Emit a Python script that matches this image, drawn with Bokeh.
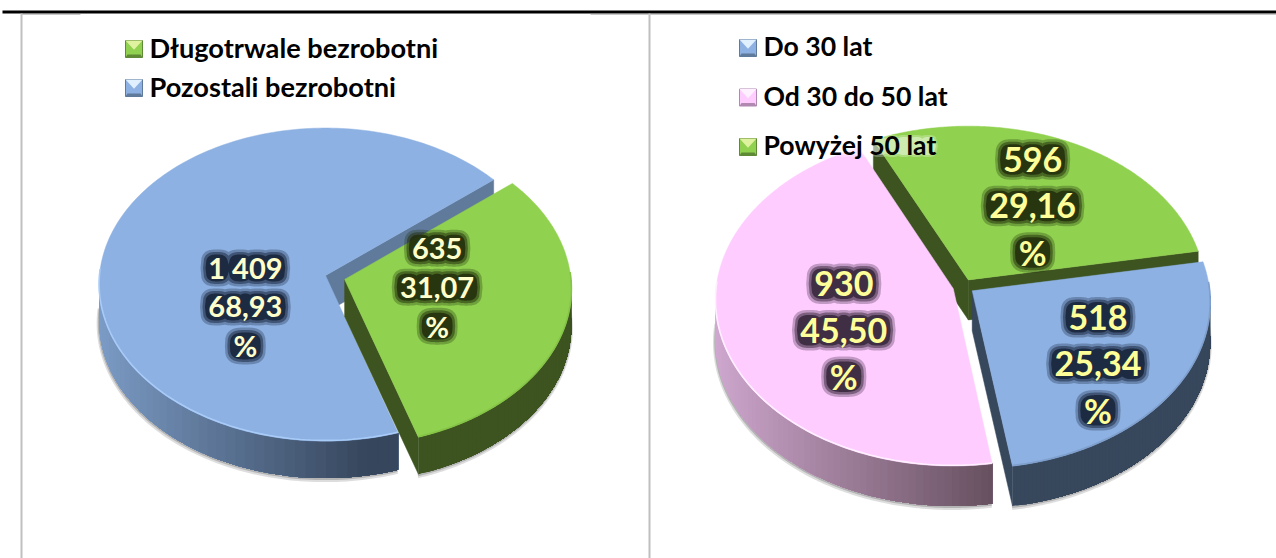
import numpy as np
from bokeh.plotting import figure
from bokeh.embed import file_html
from bokeh.resources import INLINE
from bokeh.core.properties import value

# ---- data ----
LEFT_NAMES = ["Długotrwale bezrobotni", "Pozostali bezrobotni"]
LEFT_VALUES = [635, 1409]
LEFT_VALUE_TEXT = ["635", "1 409"]
LEFT_PCT_TEXT = ["31,07", "68,93"]

RIGHT_NAMES = ["Do 30 lat", "Od 30 do 50 lat", "Powyżej 50 lat"]
RIGHT_VALUES = [518, 930, 596]
RIGHT_VALUE_TEXT = ["518", "930", "596"]
RIGHT_PCT_TEXT = ["25,34", "45,50", "29,16"]

# ---- layout / style ----
W, H = 1276, 558
FONT = "Lato"
GREEN = dict(top="#90d14f", face="#3d5420", light="#3d5420", dark="#3d5420", rim="#86c448", glow="#222e0c",
             sw=("#dff2a0", "#90d14f", "#5f8a35"))
BLUE_L = dict(top="#8db1e2", face="#5f7a9b", light="#7c9cc6", dark="#36465c", rim="#a8cbf8", glow="#18243a",
              sw=("#e0f0ff", "#8db1e2", "#5f7a9b"))
BLUE_R = dict(top="#8db1e2", face="#37475c", light="#37475c", dark="#37475c", rim="#7f9fcc", glow="#18243a",
              sw=("#e0f0ff", "#8db1e2", "#5f7a9b"))
PINK = dict(top="#ffccff", face="#67505f", light="#d0a8d0", dark="#66505f", rim="#fff0ff", glow="#35263a",
            sw=("#fff0ff", "#ffccff", "#b088b0"))

LEFT = dict(cx=325, cy=275, R=226, Ry=156, k=0.058, depth=37, start=39.5, explode=[0.088, 0.0],
            styles=[GREEN, BLUE_L], order=[1, 0], nudge=[(5, -10), (6, 49)], fs=29, step=39,
            tcolor="#ffffcc")
RIGHT = dict(cx=963, cy=286, R=237, Ry=165, k=0.0676, depth=40, start=10.2, explode=[0.045, 0.045, 0.045],
             styles=[BLUE_R, PINK, GREEN], order=[2, 1, 0], nudge=[(47, 34), (-18, 22), (22, -17)], fs=34, step=46.5,
             tcolor="#ffff99")

CHAR_W = {",": 0.26, " ": 0.22, "%": 0.86, "1": 0.58}
LABEL_GLOW = ((16, 0.3), (11, 0.5), (6, 0.85))

p = figure(width=W, height=H, x_range=(0, W), y_range=(H, 0), output_backend="svg",
           toolbar_location=None, min_border=0, outline_line_color=None, border_fill_color="white")
p.xaxis.visible = False
p.yaxis.visible = False
p.grid.visible = False


def hexmix(a, b, t):
    ca = [int(a[i:i + 2], 16) for i in (1, 3, 5)]
    cb = [int(b[i:i + 2], 16) for i in (1, 3, 5)]
    return "#%02x%02x%02x" % tuple(int(round(x + (y - x) * t)) for x, y in zip(ca, cb))


def project(c, u, v):
    s = 1 + c["k"] * v
    return c["cx"] + c["R"] * u / s, c["cy"] - c["Ry"] * v / s


def glow(text, x0, y, fs, color, layers=LABEL_GLOW, n=3.0):
    """Soft halo: a stack of translucent shapes following the row of characters."""
    widths = [CHAR_W.get(ch, 0.58) * fs for ch in text]
    x = x0 - sum(widths) / 2
    centres = []
    for ch, w in zip(text, widths):
        if ch != " ":
            centres.append((x + w / 2, w))
        x += w
    for grow, al in layers:
        lo = centres[0][0] - centres[0][1] / 2 - grow / 2
        hi = centres[-1][0] + centres[-1][1] / 2 + grow / 2
        gx = np.linspace(lo, hi, 90)
        half = np.zeros_like(gx)
        for cx_, w in centres:
            d = np.clip(np.abs(gx - cx_) / ((w + grow) / 2), 0, 1)
            half = np.maximum(half, (1 - d ** n) ** (1 / n) * (fs * 0.72 + grow) / 2)
        p.patch(np.r_[gx, gx[::-1]], np.r_[y - half, (y + half)[::-1]], fill_color=color, fill_alpha=al,
                line_color=None)


def draw_pie(c, values, vtexts, ptexts):
    vals = np.array(values, float)
    spans = vals / vals.sum() * 360
    ends = c["start"] - np.cumsum(spans)
    starts = ends + spans
    geo = []
    for i in range(len(vals)):
        mid = np.radians((starts[i] + ends[i]) / 2)
        d = c["explode"][i]
        geo.append((np.radians(starts[i]), np.radians(ends[i]), d * np.cos(mid), d * np.sin(mid), mid))

    for i in c["order"]:
        a0, a1, ox, oy, mid = geo[i]
        st = c["styles"][i]
        th = np.linspace(a0, a1, 200)
        ax, ay = project(c, ox + np.cos(th), oy + np.sin(th))
        vx, vy = project(c, ox, oy)
        topx = np.r_[vx, ax]
        topy = np.r_[vy, ay]
        front = np.sin(th) < 0.05
        # soft ground shadow under the outer wall
        p.line(ax[front] - 0.5, ay[front] + c["depth"] + 2, line_color="#555555", line_alpha=0.2, line_width=4)
        p.line(ax[front] - 0.3, ay[front] + c["depth"] + 1, line_color="#555555", line_alpha=0.3, line_width=2)
        # radial side faces that look towards the viewer
        for ang, sign in ((a0, 1), (a1, -1)):
            if sign * np.cos(ang) < 0:
                ex, ey = project(c, ox + np.cos(ang), oy + np.sin(ang))
                p.patch([vx, ex, ex, vx], [vy, ey, ey + c["depth"], vy + c["depth"]],
                        fill_color=st["face"], line_color=st["face"], line_width=0.5)
        # outer wall: painted left to right, each layer reaching the right end, so no seams show
        idx = np.where(front)[0]
        if len(idx):
            xs, ys, cols = [], [], []
            for k in range(len(idx) - 1, 0, -2):
                rng = idx[: k + 1]
                xs.append(list(ax[rng]) + list(ax[rng][::-1]))
                ys.append(list(ay[rng]) + list((ay[rng] + c["depth"])[::-1]))
                t = np.clip((np.cos(th[idx[k]]) + 1) / 1.15, 0, 1)
                cols.append(hexmix(st["light"], st["dark"], t))
            p.patches(xs, ys, fill_color=cols, line_color=None)
        # top surface
        p.patch(topx, topy, fill_color=st["top"], line_color=st["top"], line_width=0.5)
        p.line(ax[front], ay[front] - 0.7, line_color=st["rim"], line_width=1.6)

    for i in range(len(vals)):
        a0, a1, ox, oy, mid = geo[i]
        st = c["styles"][i]
        x0, y0 = project(c, ox + 0.4 * np.cos(mid), oy + 0.4 * np.sin(mid))
        x0 += c["nudge"][i][0]
        y0 += c["nudge"][i][1]
        for n, t in enumerate([vtexts[i], ptexts[i], "%"]):
            y = y0 + (n - 1) * c["step"]
            glow(t, x0, y, c["fs"], st["glow"])
            p.text([x0], [y], text=[t], text_font=value(FONT), text_font_style="bold",
                   text_font_size=f"{c['fs']}px", text_color=c["tcolor"], text_align="center",
                   text_baseline="middle")


def legend(x, ys, names, styles, tx, fs):
    size = 17
    for y, name, st in zip(ys, names, styles):
        l, r, t, b = x, x + size, y - size / 2, y + size / 2
        hi, mid_c, lo = st["sw"]
        p.patch([l, r, r, l], [t, t, b, b], fill_color=mid_c, line_color=lo, line_width=1)
        p.patch([l, r, (l + r) / 2], [t, t, t + size * 0.55], fill_color=hi, line_color=None)
        p.patch([l, r, r - 2, l + 2], [b, b, b - 3, b - 3], fill_color=lo, line_color=None)
        tw = len(name) * fs * 0.46
        glow("x" * len(name), tx + tw / 2, y - 1, fs * 0.79, "#ffffff", layers=((7, 0.25), (3, 0.4)))
        p.text([tx], [y - 2], text=[name], text_font=value(FONT), text_font_style="bold",
               text_font_size=f"{fs}px", text_color="black", text_align="left", text_baseline="middle")


# frame
p.line([2, W], [11.5, 11.5], line_color="black", line_width=3)
for fx in (21, 649):
    p.line([fx, fx], [13, H], line_color="#c0c0c0", line_width=2)
for a, b in ((21, 80), (590, 649), (649, W)):
    p.line([a, b], [14, 14], line_color="#c8c8c8", line_width=1)

draw_pie(LEFT, LEFT_VALUES, LEFT_VALUE_TEXT, LEFT_PCT_TEXT)
draw_pie(RIGHT, RIGHT_VALUES, RIGHT_VALUE_TEXT, RIGHT_PCT_TEXT)

legend(125, [48.5, 87.5], LEFT_NAMES, LEFT["styles"], 149, 27.2)
legend(739, [47.5, 97, 146.5], RIGHT_NAMES, RIGHT["styles"], 763, 26.6)

open("out.html", "w").write(file_html(p, INLINE))
